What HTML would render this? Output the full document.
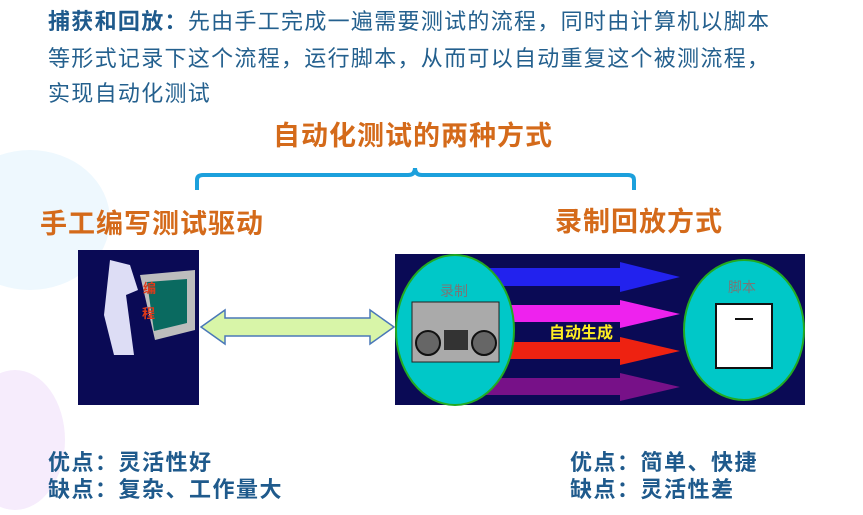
<!DOCTYPE html>
<html><head><meta charset="utf-8"><style>
body{margin:0;width:863px;height:515px;background:#fff;position:relative;overflow:hidden;font-family:"Liberation Sans","Noto Sans CJK SC",sans-serif}
.t{position:absolute;white-space:nowrap}
.p{color:#24608e;font-size:22px;letter-spacing:1.3px}
.o{color:#d46a1a;font-size:27px;font-weight:bold;letter-spacing:1px}
.b{color:#1f5a8c;font-size:22px;font-weight:bold;letter-spacing:1.5px}
</style></head><body>
<svg width="863" height="515" style="position:absolute;left:0;top:0">
<ellipse cx="30" cy="220" rx="80" ry="70" fill="#eef8fe"/>
<ellipse cx="15" cy="440" rx="50" ry="70" fill="#f6ecfc"/>
<path d="M197,190 V180 Q197,175 203,175 H408 Q415,175 415,168 Q415,175 422,175 H628 Q634,175 634,180 V190" fill="none" stroke="#1ca0dc" stroke-width="4"/>
<rect x="78" y="250" width="121" height="155" fill="#0a0a55"/>
<path d="M110,260 l20,5 l8,25 l-12,5 l8,60 l-20,0 l-10,-40 z" fill="#ddddf5"/>
<path d="M140,275 l55,-5 l0,60 l-40,10 z" fill="#bdbdbd"/>
<path d="M147,282 l40,-3 l0,44 l-33,8 z" fill="#0a6a60"/>
<text x="143" y="293" fill="#e03a1a" font-size="13" font-weight="bold">编</text>
<text x="142" y="318" fill="#e03a1a" font-size="13" font-weight="bold">程</text>
<path d="M201,327 L225,310 V318 H370 V310 L394,327 L370,344 V336 H225 V344 Z" fill="#d8f5a8" stroke="#4a78b8" stroke-width="1.5"/>
<rect x="395" y="254" width="410" height="151" fill="#0a0a55"/>
<path d="M450,268 H620 V262 L680,277 L620,292 V286 H450Z" fill="#2222ee"/>
<path d="M450,305 H620 V300 L680,314 L620,328 V322 H450Z" fill="#ee22ee"/>
<path d="M450,342 H620 V337 L680,351 L620,365 V359 H450Z" fill="#ee2211"/>
<path d="M450,378 H620 V373 L680,387 L620,401 V395 H450Z" fill="#771188"/>
<ellipse cx="455" cy="330" rx="59" ry="75" fill="#00c8c8" stroke="#22aa22" stroke-width="2"/>
<rect x="412" y="302" width="87" height="60" fill="#aaaaaa" stroke="#222"/>
<circle cx="428" cy="343" r="12" fill="#666" stroke="#111" stroke-width="2"/>
<circle cx="484" cy="343" r="12" fill="#666" stroke="#111" stroke-width="2"/>
<rect x="444" y="330" width="24" height="20" fill="#333"/>
<text x="440" y="296" fill="#777" font-size="14">录制</text>
<text x="549" y="338" fill="#ffee22" font-size="16" font-weight="bold">自动生成</text>
<ellipse cx="744" cy="330" rx="60" ry="70" fill="#00c8c8" stroke="#22aa22" stroke-width="2"/>
<text x="728" y="292" fill="#777" font-size="14">脚本</text>
<rect x="716" y="304" width="56" height="64" fill="#fff" stroke="#111" stroke-width="2"/>
<line x1="735" y1="319" x2="753" y2="319" stroke="#111" stroke-width="2"/>
</svg>
<div class="t p" style="left:48px;top:4px"><b style="color:#1f5a8c">捕获和回放：</b>先由手工完成一遍需要测试的流程，同时由计算机以脚本</div>
<div class="t p" style="left:48px;top:41px">等形式记录下这个流程，运行脚本，从而可以自动重复这个被测流程，</div>
<div class="t p" style="left:48px;top:76px">实现自动化测试</div>
<div class="t o" style="left:273px;top:114px">自动化测试的两种方式</div>
<div class="t o" style="left:40px;top:202px">手工编写测试驱动</div>
<div class="t o" style="left:555px;top:200px">录制回放方式</div>
<div class="t b" style="left:48px;top:445px">优点：灵活性好</div>
<div class="t b" style="left:48px;top:472px">缺点：复杂、工作量大</div>
<div class="t b" style="left:570px;top:445px">优点：简单、快捷</div>
<div class="t b" style="left:570px;top:472px">缺点：灵活性差</div>
</body></html>
